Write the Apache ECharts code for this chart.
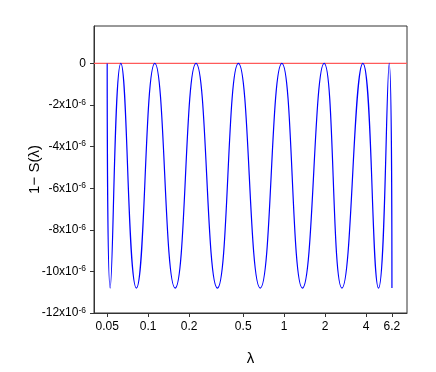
<!DOCTYPE html>
<html lang="en">
<head>
    <meta charset="UTF-8">
    <title>1 - S(lambda)</title>
    <script src="https://cdn.jsdelivr.net/npm/echarts@6/dist/echarts.min.js"></script>
    <style>
        html, body { margin: 0; padding: 0; background: #fff; }
        #box { width: 436px; height: 372px; }
    </style>
</head>
<body>
<div id="box"></div>
<script>
    // lambda values at the turning points of the curve
    var lambdaValues = [0.05, 0.0526, 0.063, 0.082, 0.112, 0.158, 0.225, 0.323, 0.461,
        0.667, 0.962, 1.363, 1.968, 2.66, 3.79, 4.94, 5.92, 6.2];
    // 1 - S(lambda), in units of 1e-6
    var oneMinusS = [0, -10.8, 0, -10.8, 0, -10.8, 0, -10.8, 0,
        -10.8, 0, -10.8, 0, -10.8, 0, -10.8, 0, -10.8];
    var xTicks = [0.05, 0.1, 0.2, 0.5, 1, 2, 4, 6.2];
    var yTicks = [-12e-6, -10e-6, -8e-6, -6e-6, -4e-6, -2e-6, 0];
    var refLevel = 0;

    var myChart = echarts.init(document.getElementById('box'));

    var curve = [];
    for (var i = 0; i < lambdaValues.length; i++) {
        curve.push([lambdaValues[i], oneMinusS[i] * 1e-6]);
    }

    var font = 'Liberation Sans, Arial, sans-serif';

    var option = {
        animation: false,
        grid: {
            left: 94, right: 29, top: 26, bottom: 59,
            show: true, borderColor: '#333', borderWidth: 1
        },
        xAxis: {
            type: 'log',
            logBase: 10,
            min: 0.04,
            max: 8,
            name: 'λ',
            nameLocation: 'middle',
            nameGap: 38,
            nameTextStyle: { fontFamily: font, fontSize: 15, color: '#000' },
            axisLine: { onZero: false, lineStyle: { color: '#333' } },
            axisTick: { customValues: xTicks, length: 4, lineStyle: { color: '#333' } },
            axisLabel: {
                customValues: xTicks,
                margin: 8,
                fontFamily: font, fontSize: 12, color: '#000',
                formatter: function (v) { return String(v); }
            },
            splitLine: { show: false },
            minorTick: { show: false }
        },
        yAxis: {
            type: 'value',
            min: -12e-6,
            max: 1.8e-6,
            name: '1− S(λ)',
            nameLocation: 'middle',
            nameGap: 52,
            nameMoveOverlap: false,
            nameTextStyle: { fontFamily: font, fontSize: 15, color: '#000' },
            axisLine: { show: true, onZero: false, lineStyle: { color: '#333' } },
            axisTick: { show: true, customValues: yTicks, length: 4, lineStyle: { color: '#333' } },
            axisLabel: {
                customValues: yTicks,
                margin: 8,
                fontFamily: font, fontSize: 12, color: '#000',
                formatter: function (v) {
                    var n = Math.round(v * 1e6);
                    if (n === 0) return '{a|0}';
                    return '{a|' + n + 'x10}{b|-6}';
                },
                rich: {
                    a: { fontFamily: font, fontSize: 12, color: '#000', lineHeight: 14 },
                    b: { fontFamily: font, fontSize: 8.5, color: '#000', verticalAlign: 'top', lineHeight: 14 }
                }
            },
            splitLine: { show: false }
        },
        series: [
            {
                name: 'reference',
                type: 'line',
                data: [[0.04, refLevel], [8, refLevel]],
                symbol: 'none',
                lineStyle: { color: '#ff5a5a', width: 1.3 },
                z: 1
            },
            {
                name: '1-S',
                type: 'line',
                data: curve,
                symbol: 'none',
                smooth: 0.5,
                lineStyle: { color: '#0000ff', width: 1.2 },
                z: 2
            }
        ]
    };
    myChart.setOption(option);
</script>
</body>
</html>
